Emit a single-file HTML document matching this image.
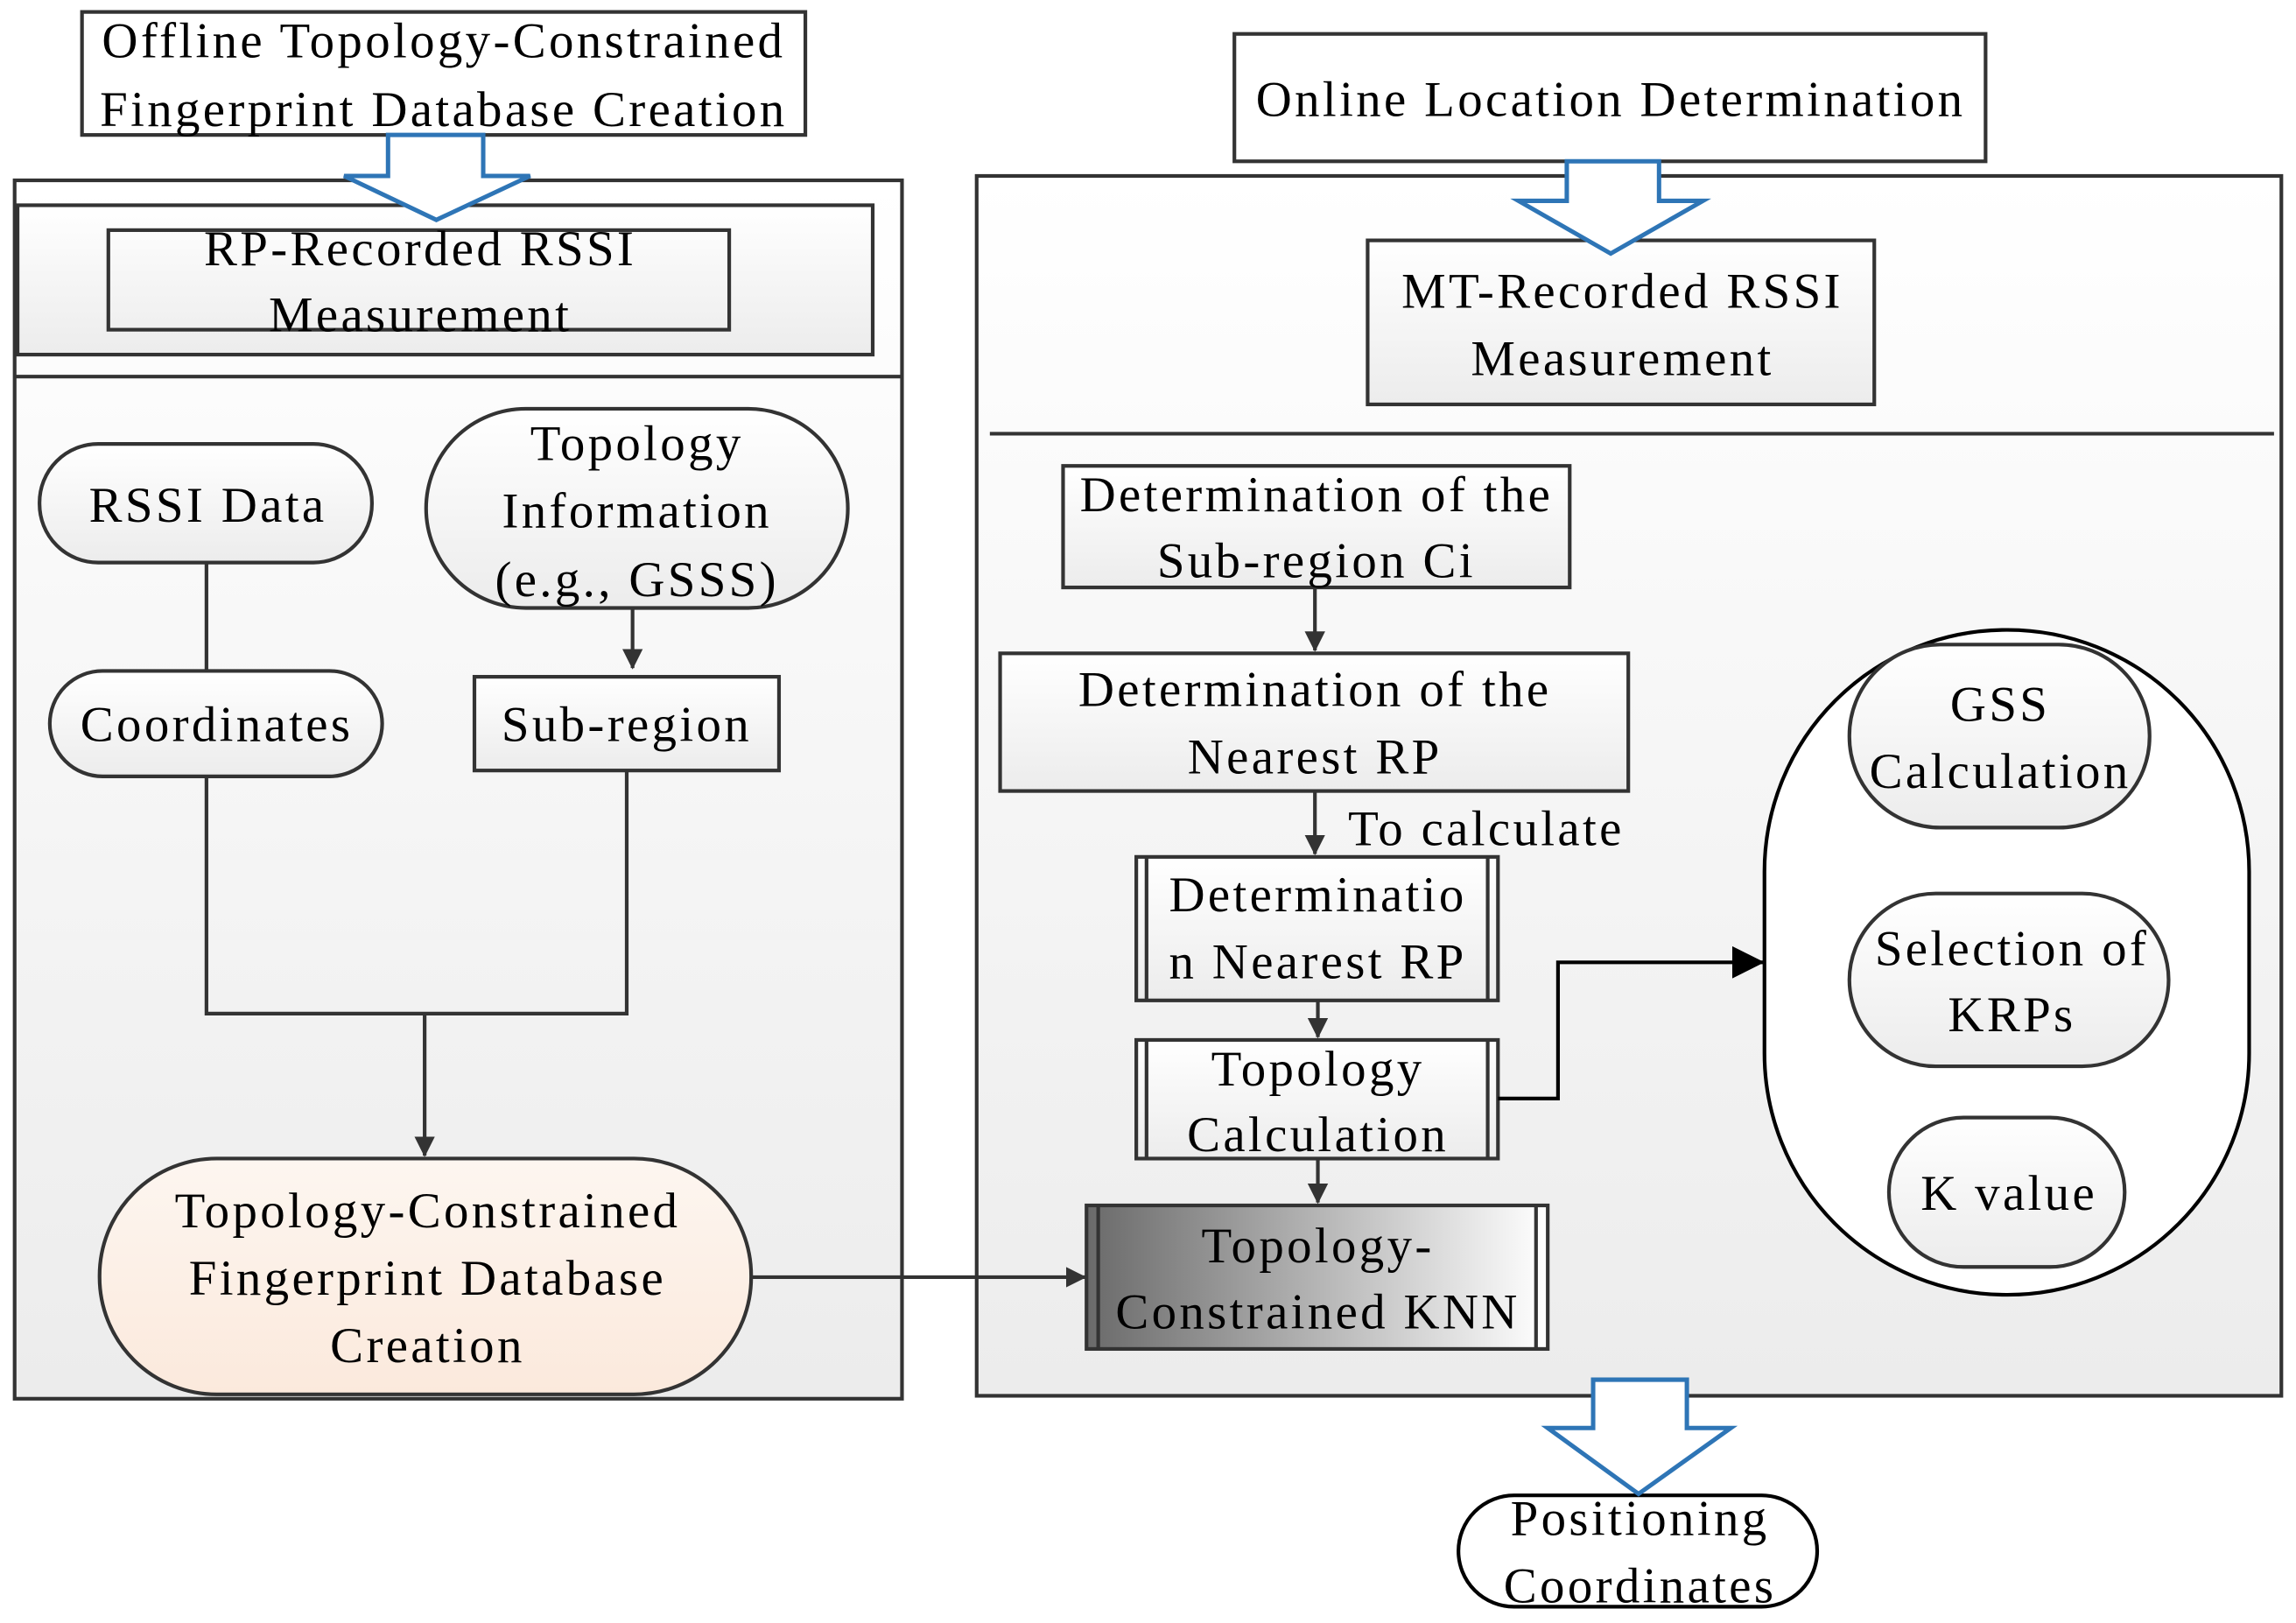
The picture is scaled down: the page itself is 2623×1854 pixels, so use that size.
<!DOCTYPE html>
<html><head><meta charset="utf-8"><style>
html,body{margin:0;padding:0;background:#fff;}
svg{display:block;}
text{font-family:"Liberation Serif",serif;font-size:34px;fill:#000;text-anchor:middle;letter-spacing:2px;}
</style></head><body>
<svg width="2623" height="1854" viewBox="0 0 1568 1108" xmlns="http://www.w3.org/2000/svg">
<defs>
<linearGradient id="g" x1="0" y1="0" x2="0" y2="1"><stop offset="0" stop-color="#ffffff"/><stop offset="1" stop-color="#ececec"/></linearGradient>
<linearGradient id="gp" x1="0" y1="0" x2="0" y2="1"><stop offset="0" stop-color="#fdf6f0"/><stop offset="1" stop-color="#fbe9dc"/></linearGradient>
<linearGradient id="gk" x1="0" y1="0" x2="1" y2="0"><stop offset="0" stop-color="#6a6a6a"/><stop offset="1" stop-color="#ffffff"/></linearGradient>
<marker id="a" markerWidth="14" markerHeight="14" refX="13" refY="7" orient="auto" markerUnits="userSpaceOnUse"><path d="M0,0 L14,7 L0,14 z" fill="#333"/></marker>
<marker id="ab" markerWidth="22" markerHeight="22" refX="21" refY="11" orient="auto" markerUnits="userSpaceOnUse"><path d="M0,0 L22,11 L0,22 z" fill="#000"/></marker>
</defs>
<g stroke="#333" stroke-width="2.5" fill="url(#g)">
<rect x="10" y="123" width="606" height="832"/>
<line x1="10" y1="257" x2="616" y2="257"/>
<rect x="12" y="140" width="584" height="102"/>
<rect x="74" y="157" width="424" height="68" fill="none"/>
<rect x="56" y="8" width="494" height="84" fill="#fff"/>
<rect x="27" y="303" width="227" height="81" rx="40"/>
<rect x="291" y="279" width="288" height="136" rx="68"/>
<rect x="34" y="458" width="227" height="72" rx="36"/>
<rect x="324" y="462" width="208" height="64"/>
<rect x="68" y="791" width="445" height="161" rx="80" fill="url(#gp)"/>
<rect x="667" y="120" width="891" height="833"/>
<line x1="676" y1="296" x2="1553" y2="296"/>
<rect x="843" y="23" width="513" height="87" fill="#fff"/>
<rect x="934" y="164" width="346" height="112"/>
<rect x="726" y="318" width="346" height="83"/>
<rect x="683" y="446" width="429" height="94"/>
<rect x="776" y="585" width="247" height="98"/>
<line x1="783" y1="585" x2="783" y2="683"/><line x1="1016" y1="585" x2="1016" y2="683"/>
<rect x="776" y="710" width="247" height="81"/>
<line x1="783" y1="710" x2="783" y2="791"/><line x1="1016" y1="710" x2="1016" y2="791"/>
<rect x="742" y="823" width="315" height="98" fill="url(#gk)"/>
<line x1="750" y1="823" x2="750" y2="921"/><line x1="1049" y1="823" x2="1049" y2="921"/>
<rect x="1205" y="430" width="331" height="454" rx="165" fill="#fff" stroke="#000"/>
<rect x="1263" y="440" width="205" height="125" rx="62"/>
<rect x="1263" y="610" width="218" height="118" rx="59"/>
<rect x="1290" y="763" width="161" height="102" rx="51"/>
<rect x="996" y="1021" width="245" height="76" rx="38" fill="#fff" stroke="#000"/>
</g>
<g stroke="#333" stroke-width="2.5" fill="none">
<line x1="141" y1="384" x2="141" y2="458"/>
<polyline points="141,530 141,692 428,692 428,526"/>
<line x1="290" y1="692" x2="290" y2="789" marker-end="url(#a)"/>
<line x1="432" y1="415" x2="432" y2="456" marker-end="url(#a)"/>
<line x1="513" y1="872" x2="741" y2="872" marker-end="url(#a)"/>
<line x1="898" y1="401" x2="898" y2="444" marker-end="url(#a)"/>
<line x1="898" y1="540" x2="898" y2="583" marker-end="url(#a)"/>
<line x1="900" y1="683" x2="900" y2="708" marker-end="url(#a)"/>
<line x1="900" y1="791" x2="900" y2="821" marker-end="url(#a)"/>
<polyline points="1023,750 1064,750 1064,657 1204,657" stroke="#000" marker-end="url(#ab)"/>
</g>
<g stroke="#2e75b6" stroke-width="3" fill="#fff">
<path d="M265,92 L330,92 L330,120 L362,120 L298,150 L235,120 L265,120 Z"/>
<path d="M1070,110 L1133,110 L1133,137 L1163,137 L1100,173 L1037,137 L1070,137 Z"/>
<path d="M1088,942 L1152,942 L1152,975 L1182,975 L1119,1020 L1057,975 L1088,975 Z"/>
</g>
<text x="303" y="39">Offline Topology-Constrained</text>
<text x="303" y="86">Fingerprint Database Creation</text>
<text x="287" y="181">RP-Recorded RSSI</text>
<text x="287" y="226">Measurement</text>
<text x="142" y="356">RSSI Data</text>
<text x="435" y="314">Topology</text>
<text x="435" y="360">Information</text>
<text x="435" y="407">(e.g., GSSS)</text>
<text x="148" y="506">Coordinates</text>
<text x="428" y="506">Sub-region</text>
<text x="292" y="838">Topology-Constrained</text>
<text x="292" y="884">Fingerprint Database</text>
<text x="292" y="930">Creation</text>
<text x="1100" y="79">Online Location Determination</text>
<text x="1108" y="210">MT-Recorded RSSI</text>
<text x="1108" y="256">Measurement</text>
<text x="899" y="349">Determination of the</text>
<text x="899" y="394">Sub-region Ci</text>
<text x="898" y="482">Determination of the</text>
<text x="898" y="528">Nearest RP</text>
<text x="1015" y="577">To calculate</text>
<text x="900" y="622">Determinatio</text>
<text x="900" y="668">n Nearest RP</text>
<text x="900" y="741">Topology</text>
<text x="900" y="786">Calculation</text>
<text x="900" y="862">Topology-</text>
<text x="900" y="907">Constrained KNN</text>
<text x="1366" y="492">GSS</text>
<text x="1366" y="538">Calculation</text>
<text x="1374" y="659">Selection of</text>
<text x="1374" y="704">KRPs</text>
<text x="1372" y="826">K value</text>
<text x="1120" y="1048">Positioning</text>
<text x="1120" y="1094">Coordinates</text>
</svg>
</body></html>
